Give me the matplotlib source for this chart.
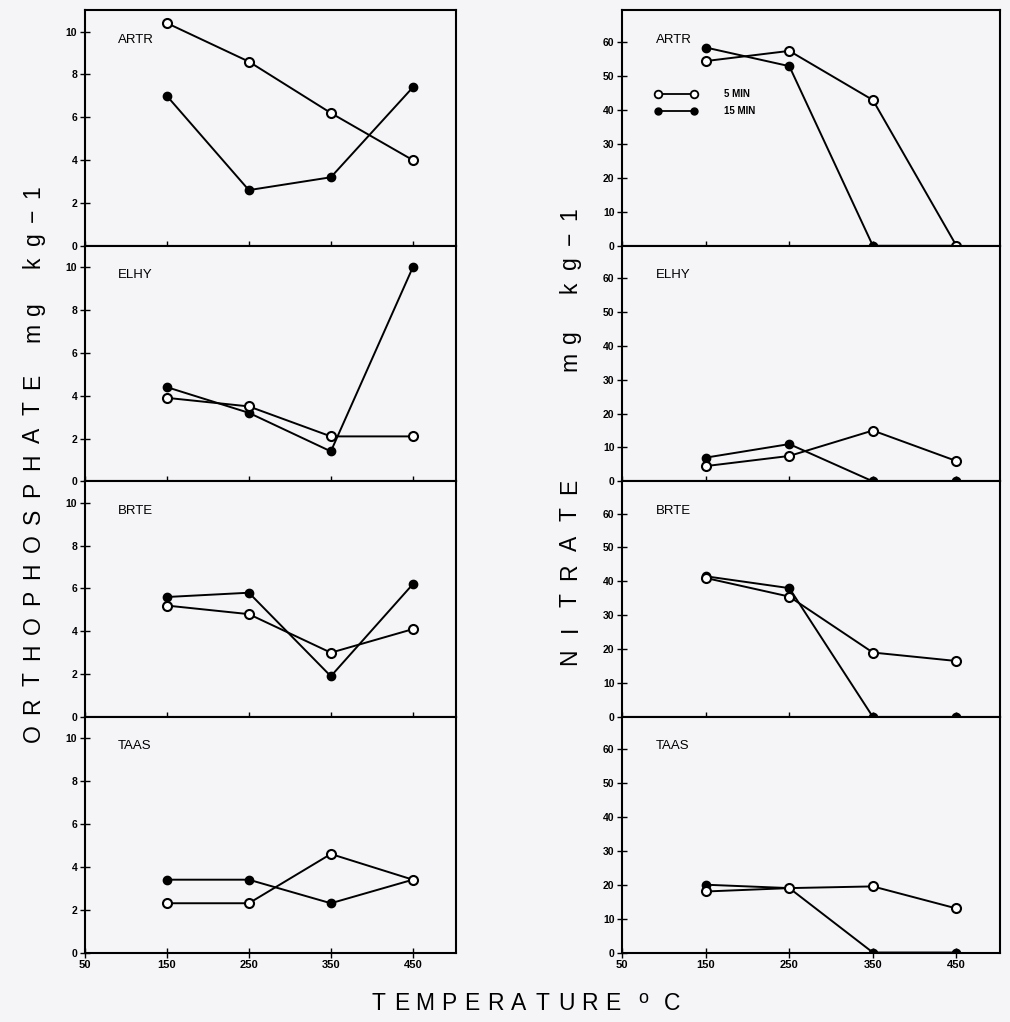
import numpy as np
import matplotlib.pyplot as plt

plt.rcParams['font.family'] = ['Liberation Sans', 'DejaVu Sans']

# data
temps = [150, 250, 350, 450]
species = ["ARTR", "ELHY", "BRTE", "TAAS"]

# orthophosphate, mg kg-1
phos_5min = {
    "ARTR": [10.4, 8.6, 6.2, 4.0],
    "ELHY": [3.9, 3.5, 2.1, 2.1],
    "BRTE": [5.2, 4.8, 3.0, 4.1],
    "TAAS": [2.3, 2.3, 4.6, 3.4],
}
phos_15min = {
    "ARTR": [7.0, 2.6, 3.2, 7.4],
    "ELHY": [4.4, 3.2, 1.4, 10.0],
    "BRTE": [5.6, 5.8, 1.9, 6.2],
    "TAAS": [3.4, 3.4, 2.3, 3.4],
}

# nitrate, mg kg-1
nit_5min = {
    "ARTR": [54.5, 57.5, 43.0, 0.0],
    "ELHY": [4.5, 7.5, 15.0, 6.0],
    "BRTE": [41.0, 35.5, 19.0, 16.5],
    "TAAS": [18.0, 19.0, 19.5, 13.0],
}
nit_15min = {
    "ARTR": [58.5, 53.0, 0.0, 0.0],
    "ELHY": [7.0, 11.0, 0.0, 0.0],
    "BRTE": [41.5, 38.0, 0.0, 0.0],
    "TAAS": [20.0, 19.0, 0.0, 0.0],
}

phos_ticks = [0, 2, 4, 6, 8, 10]
nit_ticks = [0, 10, 20, 30, 40, 50, 60]
x_ticks = [50, 150, 250, 350, 450]

W, H = 1010, 1022
bg = '#f5f5f7'
fig = plt.figure(figsize=(W / 100, H / 100), dpi=100, facecolor=bg)


def spaced(chars, x0, y0, x1, y1, rot=0, size=16):
    # letter-spaced text, one glyph at a time (positions in pixels from top-left)
    n = len(chars)
    for k, c in enumerate(chars):
        t = k / (n - 1)
        x = x0 + (x1 - x0) * t
        y = y0 + (y1 - y0) * t
        fig.text(x / W, 1 - y / H, c, rotation=rot, ha='center', va='center',
                 fontsize=size)


h = 0.2305
bottom0 = 0.068
cols = [
    (0.084, 0.367, phos_5min, phos_15min, phos_ticks, 11.0),
    (0.616, 0.374, nit_5min, nit_15min, nit_ticks, 69.5),
]

for left, width, d5, d15, yt, ymax in cols:
    for i, sp in enumerate(species):
        b = bottom0 + (3 - i) * h
        ax = fig.add_axes([left, b, width, h])
        ax.set_facecolor(bg)
        ax.plot(temps, d15[sp], color='black', lw=1.4, marker='o', ms=6,
                mfc='black', mec='black', zorder=3)
        ax.plot(temps, d5[sp], color='black', lw=1.4, marker='o', ms=6.5,
                mfc='white', mec='black', mew=1.5, zorder=4)
        ax.set_xlim(50, 502)
        ax.set_ylim(0, ymax)
        ax.set_yticks(yt)
        ax.set_yticklabels([str(t) for t in yt], fontsize=7.5, fontweight='bold')
        ax.set_xticks(x_ticks)
        if i == 3:
            ax.set_xticklabels([str(t) for t in x_ticks], fontsize=8, fontweight='bold')
        else:
            ax.set_xticklabels([])
        ax.tick_params(direction='inout', length=7, width=1.0, pad=2)
        for s in ax.spines.values():
            s.set_linewidth(1.5)
        ax.text(0.09, 0.875, sp, transform=ax.transAxes, fontsize=9.5,
                ha='left', va='center')
        if sp == "ARTR" and yt == nit_ticks:
            # legend drawn as in the original
            ax.plot([0.095, 0.19], [0.645, 0.645], transform=ax.transAxes,
                    color='black', lw=1.3, marker='o', ms=5.5, mfc='white',
                    mec='black', mew=1.3)
            ax.plot([0.095, 0.19], [0.572, 0.572], transform=ax.transAxes,
                    color='black', lw=1.3, marker='o', ms=5, mfc='black')
            ax.text(0.27, 0.645, "5 MIN", transform=ax.transAxes,
                    fontsize=7, fontweight='bold', va='center')
            ax.text(0.27, 0.572, "15 MIN", transform=ax.transAxes,
                    fontsize=7, fontweight='bold', va='center')

# axis titles with spaced letters
spaced("ORTHOPHOSPHATE", 33, 733, 33, 381, rot=90, size=16.5)
spaced("mg kg\u22121", 33, 332, 33, 192, rot=90, size=16.5)
spaced("NITRATE", 570, 657, 570, 486, rot=90, size=16.5)
spaced("mg kg\u22121", 570, 361, 570, 214, rot=90, size=16.5)
spaced("TEMPERATURE", 378, 1004, 613, 1004, rot=0, size=16.5)
fig.text(643 / W, 1 - 998 / H, "o", ha='center', va='center', fontsize=13)
fig.text(672 / W, 1 - 1004 / H, "C", ha='center', va='center', fontsize=16.5)

fig.savefig("out.png", dpi=100, facecolor=bg)
